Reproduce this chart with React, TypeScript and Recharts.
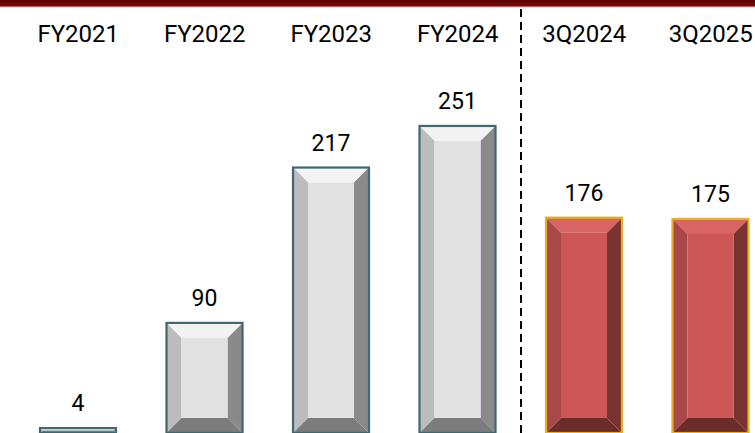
import React from 'react';
import { BarChart, Bar, XAxis, YAxis, LabelList, ReferenceLine } from 'recharts';

const categories = ['FY2021', 'FY2022', 'FY2023', 'FY2024', '3Q2024', '3Q2025'];
const values = [4, 90, 217, 251, 176, 175];
const periodType = ['annual', 'annual', 'annual', 'annual', 'quarter', 'quarter'];

const data = categories.map((name, i) => ({ name, value: values[i], kind: periodType[i] }));

const FONT = 'Roboto, Calibri, sans-serif';

const PALETTES: Record<string, any> = {
  annual: {
    stroke: '#3f6870',
    top: '#f3f3f3',
    left: '#bcbcbc',
    right: '#8a8a8a',
    bottom: '#7c7c7c',
    face: '#e2e2e2',
  },
  quarter: {
    stroke: '#e6b022',
    top: '#d96464',
    left: '#a84848',
    right: '#7a3333',
    bottom: '#6c2c2c',
    face: '#cd5757',
  },
};

// bevelled bar, like the old office "cool slant" effect
function BevelBar(props: any) {
  const { x, y, width, height, payload } = props;
  if (!height || height <= 0) return null;
  const p = PALETTES[payload.kind] || PALETTES.annual;
  const b = Math.min(15, width / 2, height / 2);
  const x2 = x + width;
  const y2 = y + height;
  const pts = (arr: number[][]) => arr.map((q) => q.join(',')).join(' ');
  return (
    <g>
      <polygon points={pts([[x, y], [x2, y], [x2 - b, y + b], [x + b, y + b]])} fill={p.top} />
      <polygon points={pts([[x, y], [x + b, y + b], [x + b, y2 - b], [x, y2]])} fill={p.left} />
      <polygon points={pts([[x2, y], [x2, y2], [x2 - b, y2 - b], [x2 - b, y + b]])} fill={p.right} />
      <polygon points={pts([[x, y2], [x + b, y2 - b], [x2 - b, y2 - b], [x2, y2]])} fill={p.bottom} />
      <rect x={x + b} y={y + b} width={Math.max(0, width - 2 * b)} height={Math.max(0, height - 2 * b)} fill={p.face} />
      <rect x={x} y={y} width={width} height={height} fill="none" stroke={p.stroke} strokeWidth={2.2} />
    </g>
  );
}

export default function App() {
  return (
    <div
      style={{
        position: 'fixed',
        left: 0,
        top: 0,
        width: 755,
        height: 433,
        overflow: 'hidden',
        background: '#fff',
      }}
    >
      <div
        style={{
          position: 'absolute',
          left: 0,
          top: 0,
          width: 755,
          height: 6,
          background: 'linear-gradient(#5a0000, #760a0a)',
          boxShadow: '0 1px 1px #c06060',
          zIndex: 2,
        }}
      />
      <BarChart
        width={780}
        height={434}
        data={data}
        margin={{ top: 26, right: 6, bottom: 1, left: 15 }}
        barSize={76}
      >
        <XAxis
          dataKey="name"
          orientation="top"
          height={40}
          axisLine={false}
          tickLine={false}
          interval={0}
          tickMargin={18}
          tick={{ fill: '#000', fontSize: 24, fontFamily: FONT }}
        />
        <YAxis hide domain={[0, 300]} allowDataOverflow />
        <ReferenceLine
          segment={[{ x: '3Q2024', y: 0 }, { x: '3Q2024', y: 347 }]}
          position="start"
          ifOverflow="visible"
          stroke="#000"
          strokeWidth={2}
          strokeDasharray="8 5"
        />
        <Bar dataKey="value" shape={<BevelBar />} isAnimationActive={false}>
          <LabelList
            dataKey="value"
            position="top"
            offset={17}
            style={{ fill: '#000', fontSize: 23, fontFamily: FONT }}
          />
        </Bar>
      </BarChart>
    </div>
  );
}
